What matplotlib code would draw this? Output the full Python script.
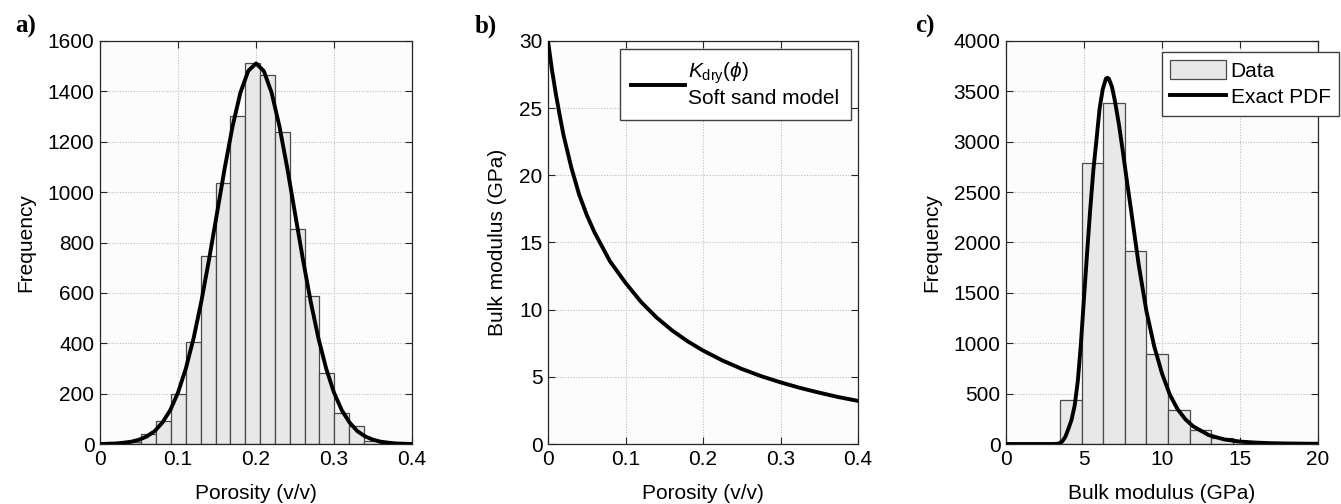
import numpy as np
import matplotlib
matplotlib.use("Agg")
import matplotlib.pyplot as plt
from matplotlib.patches import Patch
from matplotlib.lines import Line2D

# ---------------- data ----------------
# a) porosity histogram
porosity_edges = [0.0152, 0.0342, 0.0532, 0.0722, 0.0912, 0.1102, 0.1292, 0.1482,
                  0.1672, 0.1862, 0.2052, 0.2242, 0.2432, 0.2622, 0.2812, 0.3002,
                  0.3192, 0.3382, 0.3572, 0.3762, 0.3952]
porosity_counts = [2, 9, 38, 91, 199, 405, 748, 1037, 1301, 1511, 1466, 1240, 852,
                   588, 280, 125, 73, 12, 5, 1]
porosity_curve_x = [0.00, 0.01, 0.02, 0.03, 0.04, 0.05, 0.06, 0.07, 0.08, 0.09,
                    0.10, 0.11, 0.12, 0.13, 0.14, 0.15, 0.16, 0.17, 0.18, 0.19,
                    0.20, 0.21, 0.22, 0.23, 0.24, 0.25, 0.26, 0.27, 0.28, 0.29,
                    0.30, 0.31, 0.32, 0.33, 0.34, 0.35, 0.36, 0.37, 0.38, 0.39, 0.40]
porosity_curve_y = [0, 1, 2, 5, 9, 17, 30, 51, 85, 134,
                    204, 299, 420, 567, 736, 916, 1097, 1262, 1395, 1481,
                    1511, 1481, 1395, 1262, 1097, 916, 736, 567, 420, 299,
                    204, 134, 85, 51, 30, 17, 9, 5, 2, 1, 0]
porosity_ticks = [0, 0.1, 0.2, 0.3, 0.4]
porosity_ticklabels = ["0", "0.1", "0.2", "0.3", "0.4"]
freq_a_ticks = [0, 200, 400, 600, 800, 1000, 1200, 1400, 1600]

# b) soft sand model
phi_x = [0, 0.005, 0.01, 0.015, 0.02, 0.03, 0.04, 0.05, 0.06, 0.08, 0.10, 0.12,
         0.14, 0.16, 0.18, 0.20, 0.225, 0.25, 0.275, 0.30, 0.325, 0.35, 0.375, 0.40]
k_dry = [30.0, 27.9, 26.1, 24.5, 23.0, 20.6, 18.6, 17.05, 15.75, 13.6, 12.0, 10.58,
         9.42, 8.46, 7.65, 6.96, 6.22, 5.59, 5.05, 4.59, 4.18, 3.82, 3.49, 3.21]
k_ticks_b = [0, 5, 10, 15, 20, 25, 30]

# c) bulk modulus histogram
bulk_edges = [3.465, 4.850, 6.234, 7.619, 9.003, 10.388, 11.772, 13.157, 14.541,
              15.926, 17.310]
bulk_counts = [436, 2793, 3388, 1917, 896, 334, 139, 56, 17, 5]
bulk_curve_x = [0, 3.0, 3.2, 3.4, 3.6, 3.8, 4.0, 4.2, 4.4, 4.6, 4.8, 5.0, 5.2, 5.4,
                5.6, 5.8, 6.0, 6.2, 6.4, 6.5, 6.6, 6.8, 7.0, 7.25, 7.5, 7.75, 8.0,
                8.5, 9.0, 9.5, 10.0, 10.5, 11.0, 11.5, 12.0, 13.0, 14.0, 15.0, 16.0,
                17.0, 18.0, 20.0]
bulk_curve_y = [0, 0, 1, 5, 25, 70, 150, 240, 380, 620, 990, 1450, 1900, 2330,
                2720, 3020, 3330, 3520, 3625, 3635, 3625, 3540, 3390, 3160, 2894,
                2610, 2340, 1785, 1320, 970, 700, 490, 345, 245, 175, 88, 45, 24,
                14, 8, 5, 2]
bulk_ticks = [0, 5, 10, 15, 20]
freq_c_ticks = [0, 500, 1000, 1500, 2000, 2500, 3000, 3500, 4000]

# ---------------- style ----------------
plt.rcParams['font.family'] = ['Liberation Sans', 'DejaVu Sans']
plt.rcParams['mathtext.fontset'] = 'custom'
plt.rcParams['mathtext.rm'] = 'Liberation Sans'
plt.rcParams['mathtext.it'] = 'Liberation Sans:italic'
plt.rcParams['mathtext.bf'] = 'Liberation Sans:bold'

FS = 15
LW = 2.8
BAR_FACE = '#e8e8e8'
BAR_EDGE = '#4a4a4a'
AX_BG = '#fcfcfc'
SPINE = '#262626'

W, H = 1341, 504
fig = plt.figure(figsize=(W / 100, H / 100), dpi=100)


def make_ax(left_px, width_px):
    return fig.add_axes([left_px / W, (H - 444) / H, width_px / W, 403 / H])


def style(ax):
    ax.set_facecolor(AX_BG)
    ax.set_axisbelow(True)
    ax.grid(True, linestyle=(0, (1, 1.5)), color='#bdbdbd', linewidth=0.8)
    for s in ax.spines.values():
        s.set_color(SPINE)
        s.set_linewidth(0.9)
    ax.tick_params(direction='in', top=True, right=True, length=5, width=0.8,
                   labelsize=FS, colors=SPINE, labelcolor='black', pad=4)


def hist(ax, edges, counts):
    e = np.asarray(edges)
    ax.bar(e[:-1], counts, width=np.diff(e), align='edge', color=BAR_FACE,
           edgecolor=BAR_EDGE, linewidth=0.9, zorder=2)


def frame(leg):
    f = leg.get_frame()
    f.set_edgecolor('#404040')
    f.set_linewidth(1.0)
    f.set_alpha(1)
    leg.set_zorder(5)


# a)
ax_a = make_ax(100, 312)
style(ax_a)
hist(ax_a, porosity_edges, porosity_counts)
ax_a.plot(porosity_curve_x, porosity_curve_y, color='black', lw=LW, zorder=3,
          solid_joinstyle='round')
ax_a.set_xlim(0, 0.4)
ax_a.set_ylim(0, 1600)
ax_a.set_xticks(porosity_ticks)
ax_a.set_xticklabels(porosity_ticklabels)
ax_a.set_yticks(freq_a_ticks)
ax_a.set_xlabel('Porosity (v/v)', fontsize=FS, labelpad=11)
ax_a.set_ylabel('Frequency', fontsize=FS, labelpad=9)

# b)
ax_b = make_ax(548, 310)
style(ax_b)
ax_b.plot(phi_x, k_dry, color='black', lw=LW, zorder=3, solid_joinstyle='round',
          label='$K_{\\mathrm{dry}}(\\phi)$\nSoft sand model')
ax_b.set_xlim(0, 0.4)
ax_b.set_ylim(0, 30)
ax_b.set_xticks(porosity_ticks)
ax_b.set_xticklabels(porosity_ticklabels)
ax_b.set_yticks(k_ticks_b)
ax_b.set_xlabel('Porosity (v/v)', fontsize=FS, labelpad=11)
ax_b.set_ylabel('Bulk modulus (GPa)', fontsize=FS, labelpad=9)
leg_b = ax_b.legend(loc='upper right', bbox_to_anchor=(0.977, 0.979),
                    borderaxespad=0, fontsize=FS, frameon=True, fancybox=False,
                    handlelength=2.6, handletextpad=0.15, borderpad=0.55)
frame(leg_b)

# c)
ax_c = make_ax(1006, 312)
style(ax_c)
hist(ax_c, bulk_edges, bulk_counts)
ax_c.plot(bulk_curve_x, bulk_curve_y, color='black', lw=LW, zorder=3,
          solid_joinstyle='round')
ax_c.set_xlim(0, 20)
ax_c.set_ylim(0, 4000)
ax_c.set_xticks(bulk_ticks)
ax_c.set_yticks(freq_c_ticks)
ax_c.set_xlabel('Bulk modulus (GPa)', fontsize=FS, labelpad=11)
ax_c.set_ylabel('Frequency', fontsize=FS, labelpad=9)
handles = [Patch(facecolor=BAR_FACE, edgecolor=BAR_EDGE, linewidth=0.9),
           Line2D([], [], color='black', lw=LW)]
leg_c = ax_c.legend(handles, ['Data', 'Exact PDF'], loc='upper right',
                    bbox_to_anchor=(1.067, 0.973), borderaxespad=0, fontsize=FS,
                    frameon=True, fancybox=False, handlelength=2.7,
                    handleheight=1.0, handletextpad=0.2, borderpad=0.4,
                    labelspacing=0.3)
frame(leg_c)

# panel labels
for x_px, lab in [(15, 'a)'), (475, 'b)'), (915, 'c)')]:
    fig.text(x_px / W, 1 - 26 / H, lab, fontsize=18, fontweight='bold',
             family='Liberation Serif', va='center', ha='left')

fig.savefig('out.png', dpi=100)
